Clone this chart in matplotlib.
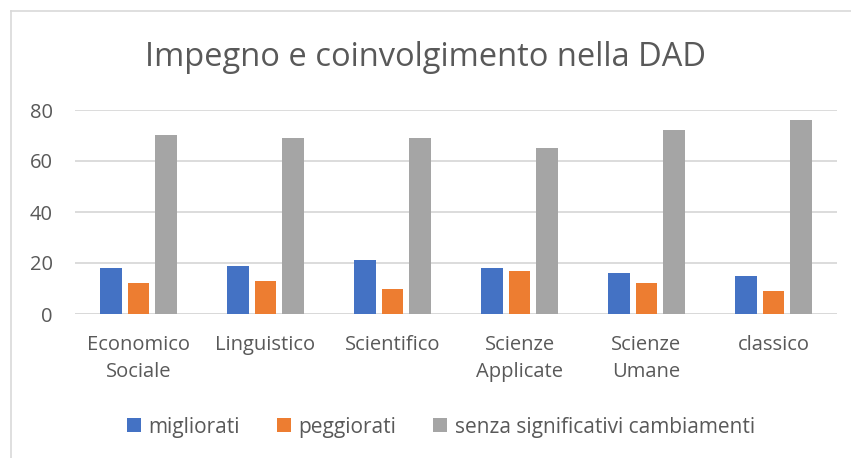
import matplotlib
matplotlib.use("Agg")
import matplotlib.pyplot as plt
import numpy as np
from matplotlib.lines import Line2D

categories = ["Economico\nSociale", "Linguistico", "Scientifico", "Scienze\nApplicate", "Scienze\nUmane", "classico"]
migliorati = [18, 19, 21, 18, 16, 15]
peggiorati = [12, 13, 10, 17, 12, 9]
senza = [70, 69, 69, 65, 72, 76]
series_names = ["migliorati", "peggiorati", "senza significativi cambiamenti"]
colors = ["#4472C4", "#ED7D31", "#A5A5A5"]
yticks = [0, 20, 40, 60, 80]

plt.rcParams['font.family'] = ['Open Sans', 'DejaVu Sans']
fig = plt.figure(figsize=(8.51, 4.58), dpi=100)
ax = fig.add_axes([75/851, 1 - 314/458, (837 - 75)/851, (314 - 110)/458])

x = np.arange(len(categories))
w = 0.173
step = 0.22
for i, (vals, c, n) in enumerate(zip([migliorati, peggiorati, senza], colors, series_names)):
    ax.bar(x + (i - 1) * step, vals, width=w, color=c, label=n, zorder=3)

ax.set_xlim(-0.5, len(categories) - 0.5)
ax.set_ylim(0, 80)
ax.set_yticks(yticks)
ax.grid(axis='y', color='#D9D9D9', linewidth=1.3, zorder=0)
for s in ax.spines.values():
    s.set_visible(False)
ax.axhline(0, color='#D9D9D9', linewidth=1.3, zorder=2)
ax.tick_params(axis='both', length=0, labelsize=14.5, labelcolor='#595959')
ax.tick_params(axis='y', pad=16)
ax.tick_params(axis='x', pad=15)
ax.set_xticks(x)
ax.set_xticklabels(categories, linespacing=1.45)

fig.text(0.5, 1 - 58/458, "Impegno e coinvolgimento nella DAD", ha='center', va='center',
         fontsize=23.5, color='#595959')

fig.legend(loc='center', bbox_to_anchor=(441/851, 1 - 427/458), ncol=3, frameon=False,
           fontsize=15, labelcolor='#595959', handlelength=0.67, handleheight=0.67,
           columnspacing=1.78, handletextpad=0.35)

# chart area border (left and top visible within the image)
fig.add_artist(Line2D([11/851, 11/851], [0, 1 - 11/458], transform=fig.transFigure,
                      color='#D9D9D9', linewidth=1.2))
fig.add_artist(Line2D([11/851, 1], [1 - 11/458, 1 - 11/458], transform=fig.transFigure,
                      color='#D9D9D9', linewidth=1.2))

fig.savefig("out.png", dpi=100)
